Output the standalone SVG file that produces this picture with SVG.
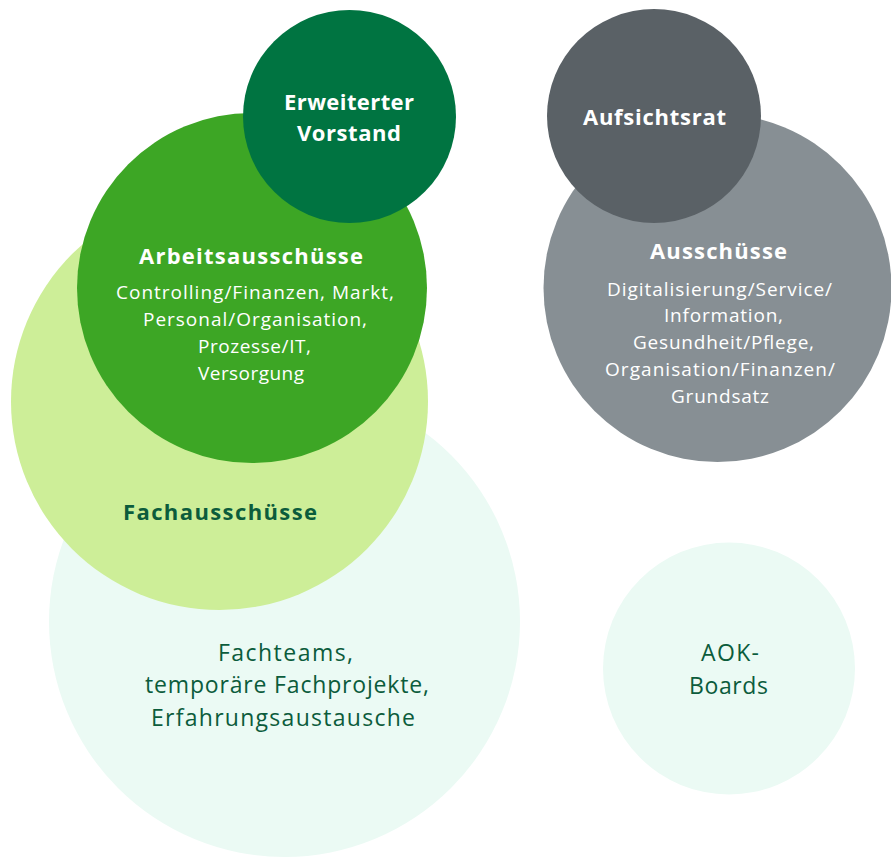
<svg xmlns="http://www.w3.org/2000/svg" width="891" height="857" viewBox="0 0 891 857">
<style>
text{font-family:"Open Sans","Liberation Sans",sans-serif;text-anchor:middle}
.t{font-weight:700;font-size:22px}
.b{font-size:19px}
.w{fill:#ffffff}
.g{fill:#0b5c3c}
.m{font-size:23px}
</style>
<rect width="891" height="857" fill="#ffffff"/>
<g id="fachteams">
<circle cx="284.5" cy="621.5" r="235.5" fill="#ebfaf4"/>
<text class="g m" x="285.5" y="661" textLength="135" lengthAdjust="spacing">Fachteams,</text>
<text class="g m" x="287" y="693" textLength="284" lengthAdjust="spacing">temporäre Fachprojekte,</text>
<text class="g m" x="283" y="726" textLength="264" lengthAdjust="spacing">Erfahrungsaustausche</text>
</g>
<g id="fachausschuesse">
<circle cx="219.5" cy="401.5" r="208.5" fill="#cdee98"/>
<text class="g t" x="220" y="520" textLength="194" lengthAdjust="spacing">Fachausschüsse</text>
</g>
<g id="arbeitsausschuesse">
<circle cx="252" cy="288" r="175" fill="#3da625"/>
<text class="w t" x="251" y="264" textLength="224" lengthAdjust="spacing">Arbeitsausschüsse</text>
<text class="w b" x="255" y="299" textLength="278" lengthAdjust="spacing">Controlling/Finanzen, Markt,</text>
<text class="w b" x="255" y="326" textLength="224" lengthAdjust="spacing">Personal/Organisation,</text>
<text class="w b" x="254.5" y="353" textLength="113" lengthAdjust="spacing">Prozesse/IT,</text>
<text class="w b" x="251" y="380" textLength="106" lengthAdjust="spacing">Versorgung</text>
</g>
<g id="vorstand">
<circle cx="349.5" cy="116.5" r="106.5" fill="#007441"/>
<text class="w t" x="349" y="110" textLength="130" lengthAdjust="spacing">Erweiterter</text>
<text class="w t" x="349" y="141" textLength="104" lengthAdjust="spacing">Vorstand</text>
</g>
<g id="ausschuesse">
<circle cx="717.5" cy="288" r="174" fill="#878f94"/>
<text class="w t" x="718.5" y="259" textLength="137" lengthAdjust="spacing">Ausschüsse</text>
<text class="w b" x="719.5" y="296" textLength="225" lengthAdjust="spacing">Digitalisierung/Service/</text>
<text class="w b" x="723.5" y="322" textLength="119" lengthAdjust="spacing">Information,</text>
<text class="w b" x="723.5" y="349" textLength="181" lengthAdjust="spacing">Gesundheit/Pflege,</text>
<text class="w b" x="720" y="376" textLength="230" lengthAdjust="spacing">Organisation/Finanzen/</text>
<text class="w b" x="720" y="403" textLength="98" lengthAdjust="spacing">Grundsatz</text>
</g>
<g id="aufsichtsrat">
<circle cx="654" cy="116" r="107" fill="#5a6166"/>
<text class="w t" x="654.5" y="125" textLength="143" lengthAdjust="spacing">Aufsichtsrat</text>
</g>
<g id="aok-boards">
<circle cx="729" cy="668.5" r="126" fill="#ebfaf4"/>
<text class="g m" x="730" y="661" textLength="58" lengthAdjust="spacing">AOK-</text>
<text class="g m" x="728.5" y="694" textLength="79" lengthAdjust="spacing">Boards</text>
</g>
<g id="connectors"/>
</svg>
